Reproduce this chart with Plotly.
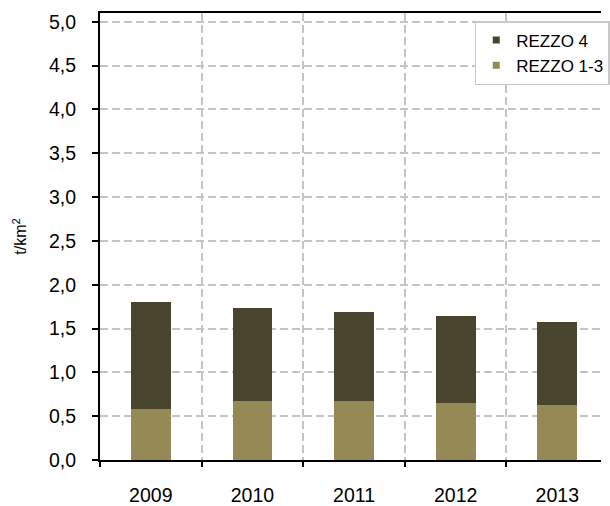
import plotly.graph_objects as go

years = ["2009", "2010", "2011", "2012", "2013"]
rezzo_1_3 = [0.58, 0.67, 0.67, 0.645, 0.625]
rezzo_4 = [1.22, 1.065, 1.02, 1.0, 0.95]
y_ticks = [0, 0.5, 1.0, 1.5, 2.0, 2.5, 3.0, 3.5, 4.0, 4.5, 5.0]

c_13 = "#958A55"
c_4 = "#49442D"

fig = go.Figure()
fig.add_trace(go.Bar(x=years, y=rezzo_1_3, name="REZZO 1-3", marker_color=c_13,
                     marker_line_width=0, width=0.39, showlegend=False))
fig.add_trace(go.Bar(x=years, y=rezzo_4, name="REZZO 4", marker_color=c_4,
                     marker_line_width=0, width=0.39, showlegend=False))
# legend entries with small square swatches
fig.add_trace(go.Scatter(x=[None], y=[None], mode="markers", name="REZZO 4",
                         marker=dict(symbol="square", size=7, color=c_4), legendrank=1))
fig.add_trace(go.Scatter(x=[None], y=[None], mode="markers", name="REZZO 1-3",
                         marker=dict(symbol="square", size=7, color=c_13), legendrank=2))

fig.update_layout(
    width=610, height=506,
    barmode="stack",
    separators=",.",
    plot_bgcolor="white", paper_bgcolor="white",
    margin=dict(l=100, r=0, t=13, b=44),
    font=dict(family="Liberation Sans, Arial", size=19.5, color="black"),
    legend=dict(
        x=0.748, y=0.982, xanchor="left", yanchor="top",
        bgcolor="white", bordercolor="#C8C8C8", borderwidth=1.5,
        traceorder="normal", tracegroupgap=10,
        font=dict(size=17),
    ),
    showlegend=True,
)
fig.update_xaxes(
    type="category", range=[-0.5, 4.43],
    showline=True, linecolor="black", linewidth=2, mirror=True,
    ticks="outside", tickson="boundaries", ticklen=5, tickcolor="black", tickwidth=2,
    showgrid=True, gridcolor="#C4C4C4", griddash="8px,4px", gridwidth=1.5,
    tickfont=dict(size=19.5), ticklabelstandoff=17,
)
fig.update_yaxes(
    range=[0, 5.1], tickvals=y_ticks, tickformat=".1f",
    showline=True, linecolor="black", linewidth=2,
    ticks="outside", ticklen=6, tickcolor="black", tickwidth=2,
    showgrid=True, gridcolor="#C4C4C4", griddash="8px,4px", gridwidth=1.5,
    zeroline=False,
    tickfont=dict(size=19.5), ticklabelstandoff=12,
    title=dict(text="t/km<sup>2</sup>", font=dict(size=16), standoff=18),
)
fig.write_html("out.html", config={"displayModeBar": False},
               post_script="document.body.style.margin='0';document.body.style.overflow='hidden';")
